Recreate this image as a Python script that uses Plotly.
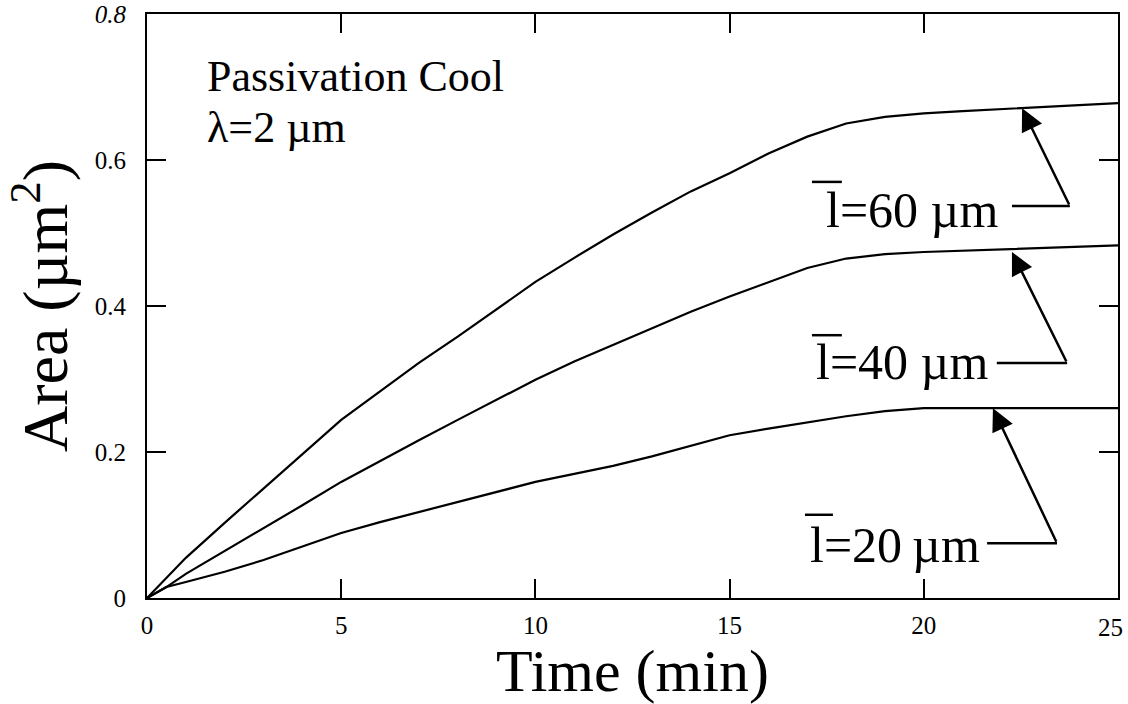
import plotly.graph_objects as go

# ---- data ----
time_min = [0, 0.5, 1, 2, 3, 4, 5, 6, 7, 8, 9, 10, 11, 12, 13, 14, 15, 16, 17, 18,
            19, 20, 21, 22, 23, 24, 25]
area_l60 = [0, 0.028, 0.055, 0.103, 0.150, 0.198, 0.244, 0.283, 0.322, 0.358, 0.396,
            0.433, 0.466, 0.498, 0.528, 0.557, 0.582, 0.609, 0.632, 0.650, 0.659,
            0.664, 0.667, 0.670, 0.672, 0.675, 0.678]
area_l40 = [0, 0.015, 0.033, 0.064, 0.095, 0.127, 0.159, 0.188, 0.216, 0.244, 0.272,
            0.299, 0.324, 0.347, 0.370, 0.392, 0.413, 0.433, 0.452, 0.465, 0.471,
            0.474, 0.476, 0.477, 0.479, 0.481, 0.483]
area_l20 = [0, 0.015, 0.022, 0.036, 0.052, 0.071, 0.089, 0.104, 0.118, 0.131, 0.146,
            0.159, 0.170, 0.181, 0.194, 0.209, 0.223, 0.232, 0.241, 0.249, 0.256,
            0.260, 0.260, 0.260, 0.260, 0.260, 0.260]

x_ticks = [0, 5, 10, 15, 20, 25]
x_tick_text = ["0", "5", "10", "15", "20", ""]   # last label drawn right-aligned below
x_last_label = "25"
y_ticks = [0, 0.2, 0.4, 0.6, 0.8]
y_tick_text = ["0", "0.2", "0.4", "0.6", "<i>0.8</i>"]

series = [
    ("=60 µm", area_l60),
    ("=40 µm", area_l40),
    ("=20\u2009µm", area_l20),
]

# label layout: (text right x, text y, line start x, junction x, junction y, tip x, tip y, bar x0, bar x1, bar y)
label_geom = [
    (21.95, 0.532, 22.27, 23.76, 0.537, 22.53, 0.671, 17.12, 17.89, 0.570),
    (21.70, 0.323, 21.88, 23.69, 0.322, 22.27, 0.474, 17.12, 17.89, 0.360),
    (21.50, 0.073, 21.63, 23.43, 0.075, 21.78, 0.260, 16.94, 17.66, 0.114),
]

FONT = "Liberation Serif, Times New Roman, serif"

fig = go.Figure()
for name, vals in series:
    fig.add_trace(go.Scatter(x=time_min, y=vals, mode="lines",
                             line=dict(color="black", width=2.2),
                             name="l" + name, showlegend=False))

annotations = []
shapes = []
for (name, _), g in zip(series, label_geom):
    tx, ty, lx0, jx, jy, px, py, bx0, bx1, by = g
    annotations.append(dict(x=tx, y=ty, xref="x", yref="y", text="l" + name,
                            showarrow=False, xanchor="right", yanchor="middle",
                            font=dict(family=FONT, size=50, color="black")))
    # overbar on the "l"
    shapes.append(dict(type="line", xref="x", yref="y", x0=bx0, y0=by, x1=bx1, y1=by,
                       line=dict(color="black", width=2.5)))
    # horizontal leader line
    shapes.append(dict(type="line", xref="x", yref="y", x0=lx0, y0=jy, x1=jx, y1=jy,
                       line=dict(color="black", width=2.5)))
    # arrow from the leader line to the curve
    annotations.append(dict(x=px, y=py, xref="x", yref="y", ax=jx, ay=jy,
                            axref="x", ayref="y", text="", showarrow=True,
                            arrowhead=2, arrowsize=1.8, arrowwidth=2.5,
                            arrowcolor="black", standoff=0))

annotations.append(dict(x=1.49, y=0.714, xref="x", yref="y", text="Passivation Cool",
                        showarrow=False, xanchor="left", yanchor="middle",
                        font=dict(family=FONT, size=44, color="black")))
annotations.append(dict(x=1.49, y=0.644, xref="x", yref="y", text="λ=2 µm",
                        showarrow=False, xanchor="left", yanchor="middle",
                        font=dict(family=FONT, size=44, color="black")))
# last x tick label, kept inside the page
annotations.append(dict(x=x_ticks[-1], y=0, xref="x", yref="paper", text=x_last_label,
                        showarrow=False, xanchor="right", yanchor="top",
                        xshift=7, yshift=-14,
                        font=dict(family=FONT, size=25, color="black")))

axis_common = dict(showgrid=False, zeroline=False, showline=True, linecolor="black",
                   linewidth=2, mirror="allticks", ticks="inside", ticklen=19,
                   tickwidth=2, tickcolor="black", automargin=False,
                   ticklabeloverflow="allow",
                   tickfont=dict(family=FONT, size=25, color="black"))

fig.update_layout(
    width=1128, height=704,
    margin=dict(l=147, r=10, t=14, b=106),
    paper_bgcolor="white", plot_bgcolor="white",
    xaxis=dict(range=[0, 25], tickvals=x_ticks, ticktext=x_tick_text,
               ticklabelstandoff=4,
               title=dict(text="Time (min)", standoff=16,
                          font=dict(family=FONT, size=60, color="black")),
               **axis_common),
    yaxis=dict(range=[0, 0.8], tickvals=y_ticks, ticktext=y_tick_text,
               ticklabelstandoff=14,
               title=dict(text="Area (µm<sup>2</sup>)", standoff=10,
                          font=dict(family=FONT, size=64, color="black")),
               **axis_common),
    annotations=annotations,
    shapes=shapes,
)

fig.write_html("out.html")
